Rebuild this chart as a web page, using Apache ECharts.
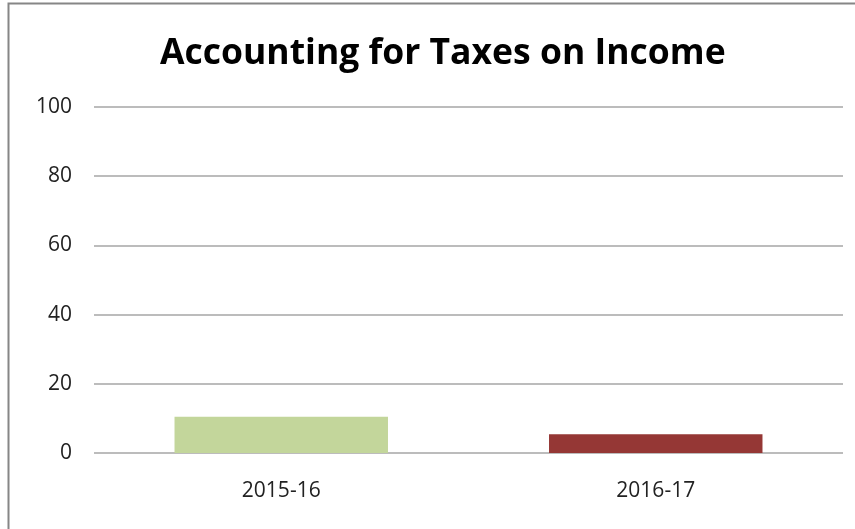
<!DOCTYPE html>
<html>
<head>
<meta charset="utf-8">
<script src="https://cdn.jsdelivr.net/npm/echarts@6/dist/echarts.min.js"></script>
<style>
html,body{margin:0;padding:0;background:#fff;}
#chart{width:855px;height:529px;}
</style>
</head>
<body>
<div id="chart"></div>
<script>
// Chart data
const categories = ['2015-16', '2016-17'];
const values = [10.5, 5.4];
const barColors = ['#c3d69b', '#953735'];
const yTicks = [0, 20, 40, 60, 80, 100];

const chart = echarts.init(document.getElementById('chart'));
chart.setOption({
  backgroundColor: '#ffffff',
  animation: false,
  title: {
    text: 'Accounting for Taxes on Income',
    left: 155,
    top: 31,
    textStyle: {
      fontFamily: 'Open Sans',
      fontWeight: 'bold',
      fontSize: 35.5,
      color: '#000'
    }
  },
  graphic: [{
    type: 'rect',
    shape: { x: 8.5, y: 3.5, width: 900, height: 600 },
    style: { fill: 'none', stroke: '#868686', lineWidth: 2 },
    silent: true
  }],
  grid: { left: 94, right: 12, top: 107, bottom: 76 },
  xAxis: {
    type: 'category',
    data: categories,
    axisLine: { show: false },
    axisTick: { show: false },
    axisLabel: { fontFamily: 'Open Sans', fontSize: 21, color: '#222', margin: 28 }
  },
  yAxis: {
    type: 'value',
    min: yTicks[0],
    max: yTicks[yTicks.length - 1],
    interval: 20,
    axisLine: { show: false },
    axisTick: { show: false },
    axisLabel: { fontFamily: 'Open Sans', fontSize: 21, color: '#222', margin: 22 },
    splitLine: { lineStyle: { color: '#a6a6a6', width: 1.5 } }
  },
  series: [{
    type: 'bar',
    data: values.map((v, i) => ({ value: v, itemStyle: { color: barColors[i] } })),
    barWidth: '57%'
  }]
});
</script>
</body>
</html>
